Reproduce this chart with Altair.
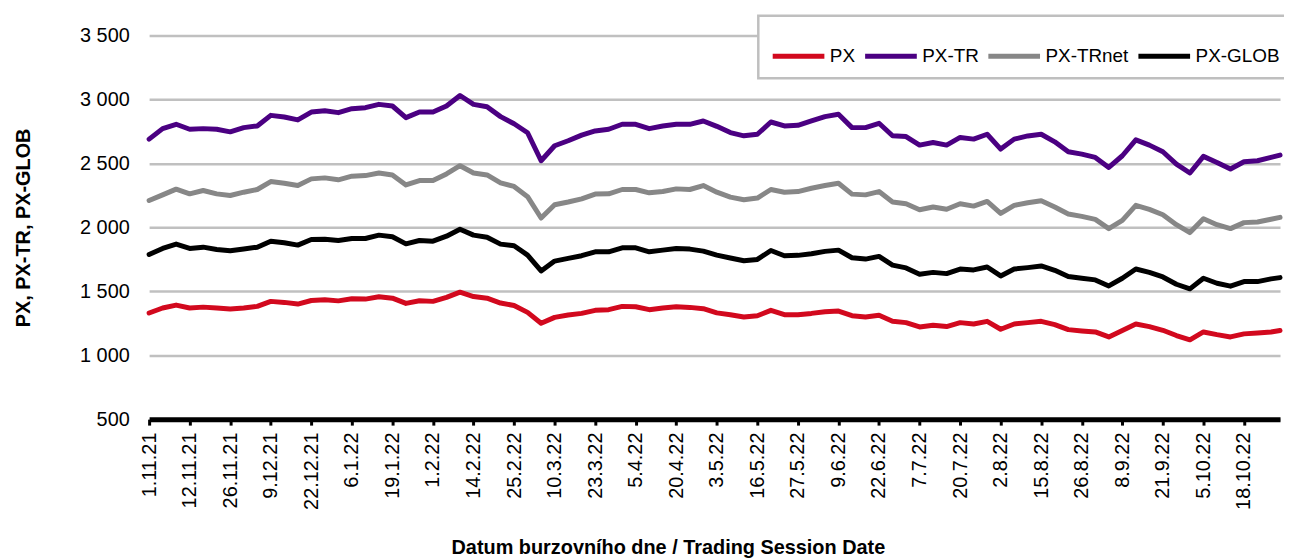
import altair as alt
import pandas as pd

# trading-day index of each sampled point (0 = 1.11.21, 251 = 31.10.22)
IDX = [0, 3, 6, 9, 12, 15, 18, 21, 24, 27, 30, 33, 36, 39, 42, 45, 48, 51, 54, 57,
       60, 63, 66, 69, 72, 75, 78, 81, 84, 87, 90, 93, 96, 99, 102, 105, 108, 111,
       114, 117, 120, 123, 126, 129, 132, 135, 138, 141, 144, 147, 150, 153, 156,
       159, 162, 165, 168, 171, 174, 177, 180, 183, 186, 189, 192, 195, 198, 201,
       204, 207, 210, 213, 216, 219, 222, 225, 228, 231, 234, 237, 240, 243, 246,
       249, 251]

PX = [1330, 1369, 1392, 1369, 1376, 1369, 1361, 1369, 1382, 1421, 1413, 1400, 1428,
      1433, 1425, 1441, 1439, 1457, 1446, 1405, 1426, 1421, 1452, 1493, 1459, 1446,
      1408, 1389, 1335, 1250, 1296, 1314, 1327, 1351, 1356, 1382, 1379, 1356, 1369,
      1379, 1374, 1364, 1331, 1317, 1299, 1309, 1351, 1317, 1317, 1327, 1340, 1345,
      1309, 1299, 1312, 1265, 1255, 1221, 1234, 1224, 1255, 1244, 1265, 1203, 1244,
      1255, 1265, 1239, 1200, 1190, 1182, 1143, 1193, 1244, 1224, 1195, 1154, 1120,
      1182, 1161, 1143, 1167, 1174, 1182, 1193]

PX_TR = [2690, 2772, 2806, 2767, 2772, 2767, 2747, 2780, 2793, 2876, 2863, 2840, 2902,
         2912, 2897, 2928, 2936, 2962, 2949, 2858, 2902, 2902, 2949, 3031, 2962, 2943,
         2866, 2810, 2740, 2521, 2638, 2677, 2721, 2754, 2767, 2806, 2806, 2772, 2793,
         2806, 2806, 2832, 2790, 2741, 2716, 2728, 2824, 2793, 2798, 2832, 2866, 2884,
         2780, 2780, 2814, 2716, 2710, 2643, 2664, 2643, 2703, 2690, 2728, 2612, 2690,
         2715, 2728, 2669, 2591, 2573, 2547, 2469, 2560, 2684, 2643, 2591, 2495, 2425,
         2555, 2508, 2456, 2513, 2521, 2547, 2565]

PX_TRNET = [2210, 2254, 2299, 2262, 2288, 2262, 2249, 2275, 2296, 2358, 2345, 2327, 2379,
            2387, 2372, 2400, 2405, 2425, 2410, 2332, 2366, 2366, 2418, 2482, 2425, 2410,
            2348, 2320, 2240, 2073, 2177, 2198, 2223, 2260, 2262, 2296, 2296, 2270, 2280,
            2301, 2296, 2327, 2275, 2236, 2216, 2229, 2296, 2275, 2280, 2306, 2327, 2345,
            2260, 2254, 2280, 2198, 2185, 2138, 2159, 2141, 2185, 2166, 2203, 2109, 2172,
            2192, 2208, 2159, 2104, 2086, 2062, 1990, 2055, 2172, 2141, 2099, 2021, 1959,
            2068, 2021, 1990, 2037, 2042, 2063, 2078]

PX_GLOB = [1788, 1835, 1869, 1835, 1845, 1827, 1817, 1830, 1845, 1892, 1879, 1861, 1905,
           1907, 1897, 1913, 1913, 1939, 1926, 1871, 1897, 1892, 1931, 1985, 1939, 1923,
           1869, 1856, 1783, 1659, 1736, 1757, 1778, 1809, 1809, 1840, 1840, 1809, 1822,
           1835, 1830, 1814, 1783, 1760, 1739, 1749, 1819, 1778, 1781, 1793, 1812, 1822,
           1762, 1752, 1773, 1705, 1683, 1633, 1648, 1638, 1674, 1667, 1690, 1620, 1674,
           1685, 1698, 1664, 1615, 1602, 1589, 1542, 1602, 1674, 1648, 1612, 1555, 1519,
           1602, 1563, 1540, 1576, 1576, 1597, 1607]

SERIES = ["PX", "PX-TR", "PX-TRnet", "PX-GLOB"]
COLORS = ["#d2091e", "#4b0082", "#878787", "#000000"]

TICK_POS = [0, 9, 18, 27, 36, 45, 54, 63, 72, 81, 90, 99, 108, 117, 126, 135, 144,
            153, 162, 171, 180, 189, 198, 207, 216, 225, 234, 243]
TICK_LABELS = ["1.11.21", "12.11.21", "26.11.21", "9.12.21", "22.12.21", "6.1.22",
               "19.1.22", "1.2.22", "14.2.22", "25.2.22", "10.3.22", "23.3.22",
               "5.4.22", "20.4.22", "3.5.22", "16.5.22", "27.5.22", "9.6.22",
               "22.6.22", "7.7.22", "20.7.22", "2.8.22", "15.8.22", "26.8.22",
               "8.9.22", "21.9.22", "5.10.22", "18.10.22"]
Y_TICKS = [500, 1000, 1500, 2000, 2500, 3000, 3500]

rows = []
for name, vals in zip(SERIES, [PX, PX_TR, PX_TRNET, PX_GLOB]):
    for i, v in zip(IDX, vals):
        rows.append({"idx": i, "value": v, "series": name})
df = pd.DataFrame(rows)

label_arr = "[" + ",".join(f"'{l}'" for l in TICK_LABELS) + "]"
x_label_expr = f"{label_arr}[round(datum.value / 9)]"

FONT = "Liberation Sans"

chart = alt.Chart(df).mark_line(
    strokeWidth=5, strokeJoin="round", strokeCap="round"
).encode(
    x=alt.X(
        "idx:Q",
        scale=alt.Scale(domain=[0, 251], nice=False, zero=False),
        axis=alt.Axis(
            values=TICK_POS,
            labelExpr=x_label_expr,
            labelAngle=-90,
            labelFontSize=20,
            labelPadding=7,
            labelColor="black",
            grid=False,
            domainColor="black",
            domainWidth=5,
            tickColor="black",
            tickWidth=3,
            tickSize=6,
            title="Datum burzovního dne / Trading Session Date",
            titleFontSize=20,
            titleFontWeight="bold",
            titleColor="black",
            titleX=522,
            titleY=119,
        ),
    ),
    y=alt.Y(
        "value:Q",
        scale=alt.Scale(domain=[500, 3500], nice=False, zero=False),
        axis=alt.Axis(
            values=Y_TICKS,
            labelExpr="replace(format(datum.value, ','), ',', ' ')",
            labelFontSize=20,
            labelPadding=20,
            labelColor="black",
            grid=True,
            gridColor="#c0c0c0",
            gridWidth=2.5,
            domain=False,
            ticks=False,
            tickSize=0,
            title="PX, PX-TR, PX-GLOB",
            titleFontSize=20,
            titleFontWeight="bold",
            titleColor="black",
            titlePadding=46,
        ),
    ),
    color=alt.Color(
        "series:N",
        scale=alt.Scale(domain=SERIES, range=COLORS),
        legend=alt.Legend(
            title=None,
            orient="none",
            legendX=613,
            legendY=-20,
            direction="horizontal",
            symbolType="stroke",
            symbolSize=2704,
            symbolStrokeWidth=5,
            labelFontSize=19,
            labelColor="black",
            labelOffset=3,
            columnPadding=-1,
            padding=12,
            fillColor="white",
            strokeColor="#bfbfbf",
        ),
    ),
).properties(
    width=1138,
    height=386,
    autosize=alt.AutoSizeParams(type="none"),
    padding={"left": 142, "top": 26, "right": 4, "bottom": 139},
).configure(
    font=FONT,
).configure_legend(
    strokeWidth=2.5,
).configure_view(
    strokeWidth=0,
)

chart.save("out.html", embed_options={"renderer": "svg", "actions": False})
